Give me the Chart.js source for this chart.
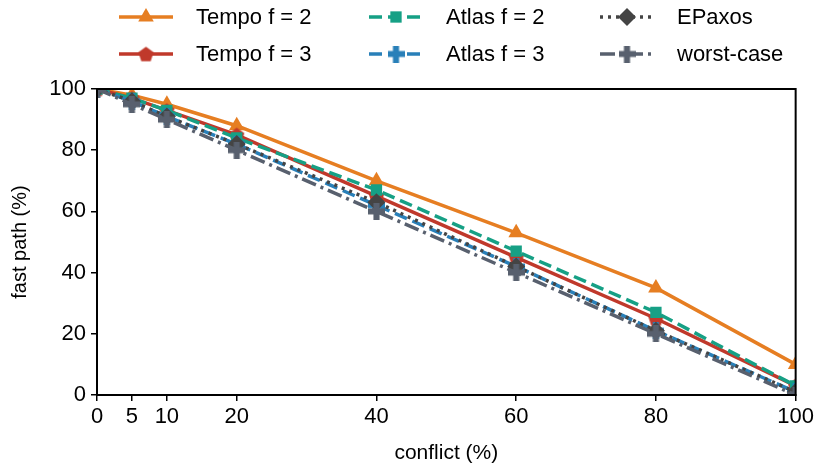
<!DOCTYPE html>
<html>
<head>
<meta charset="utf-8">
<script src="https://cdn.jsdelivr.net/npm/chart.js@4"></script>
<style>
  html, body { margin: 0; padding: 0; background: #fff; }
  #wrap { width: 817px; height: 466px; position: relative; }
</style>
</head>
<body>
<div id="wrap"><canvas id="fastPathChart"></canvas></div>
<script>
// conflict rate (%) on the x axis
const conflict = [0, 5, 10, 20, 40, 60, 80, 100];
const yTicks = [0, 20, 40, 60, 80, 100];

// fast path ratio (%) per protocol
const tempoF2 = [100, 98, 95, 88, 70, 53, 35, 10];
const tempoF3 = [100, 97, 93, 85, 65, 45, 25, 3];
const atlasF2 = [100, 97, 93, 84, 67, 47, 27, 3];
const atlasF3 = [100, 96, 91, 82, 62, 42, 21, 1];
const epaxos = [100, 96, 91, 82, 63, 42, 21, 1];
const worstCase = [100, 95, 90, 80, 60, 40, 20, 0];

const FONT = '"Liberation Sans", Arial, sans-serif';

// small canvases for the marker shapes Chart.js doesn't have
function makeMarker(shape, color, size) {
    const c = document.createElement('canvas');
    c.width = size; c.height = size;
    const g = c.getContext('2d');
    const r = size / 2;
    g.fillStyle = color;
    g.beginPath();
    if (shape === 'pentagon') {
        for (let i = 0; i < 5; i++) {
            const a = -Math.PI / 2 + i * 2 * Math.PI / 5;
            const px = r + Math.cos(a) * (r - 0.5);
            const py = r + 0.8 + Math.sin(a) * (r - 0.5);
            if (i === 0) g.moveTo(px, py); else g.lineTo(px, py);
        }
    } else if (shape === 'plus') {
        const t = size * 0.36;
        g.rect(r - t / 2, 0, t, size);
        g.rect(0, r - t / 2, size, t);
    }
    g.closePath();
    g.fill();
    return c;
}

const seriesDefs = [
    { label: 'Tempo f = 2', data: tempoF2, color: '#e67e22', dash: [], style: 'triangle', radius: 9 },
    { label: 'Tempo f = 3', data: tempoF3, color: '#c0392b', dash: [], style: makeMarker('pentagon', '#c0392b', 17), radius: 8 },
    { label: 'Atlas f = 2', data: atlasF2, color: '#16a085', dash: [13, 6], style: 'rect', radius: 8 },
    { label: 'Atlas f = 3', data: atlasF3, color: '#2980b9', dash: [13, 6], style: makeMarker('plus', '#2980b9', 17), radius: 8 },
    { label: 'EPaxos', data: epaxos, color: '#444444', dash: [3, 5], style: 'rectRot', radius: 9 },
    { label: 'worst-case', data: worstCase, color: '#58606e', dash: [15, 5, 3, 5], style: makeMarker('plus', '#58606e', 17), radius: 8 }
];

const datasets = seriesDefs.map((s, i) => ({
    label: s.label,
    data: s.data.map((v, k) => ({ x: conflict[k], y: v })),
    borderColor: s.color,
    backgroundColor: s.color,
    borderWidth: 3.5,
    borderDash: s.dash,
    pointStyle: s.style,
    pointRadius: s.radius,
    pointBorderWidth: 0,
    pointBackgroundColor: s.color,
    tension: 0,
    clip: 0,
    order: seriesDefs.length - i
}));

// matplotlib-like legend: 3 columns, filled column by column
const legendPlugin = {
    id: 'gridLegend',
    afterDraw(chart) {
        const ctx = chart.ctx;
        const colLine = [119, 369, 600];
        const rowY = [17, 54];
        ctx.save();
        seriesDefs.forEach((s, i) => {
            const col = Math.floor(i / 2), row = i % 2;
            const x0 = colLine[col], x1 = x0 + 54, y = rowY[row];
            ctx.strokeStyle = s.color;
            ctx.lineWidth = 3.5;
            ctx.setLineDash(s.dash);
            ctx.beginPath();
            ctx.moveTo(x0, y);
            ctx.lineTo(x1, y);
            ctx.stroke();
            ctx.setLineDash([]);
            ctx.fillStyle = s.color;
            Chart.helpers.drawPoint(ctx, { pointStyle: s.style, radius: s.radius, borderWidth: 0, rotation: 0 }, (x0 + x1) / 2, y);
            ctx.fillStyle = '#000';
            ctx.font = '22px ' + FONT;
            ctx.textBaseline = 'middle';
            ctx.textAlign = 'left';
            ctx.fillText(s.label, x1 + 23, y + 1);
        });
        ctx.restore();
    }
};

// top and right spines
const framePlugin = {
    id: 'frame',
    afterDraw(chart) {
        const a = chart.chartArea;
        const ctx = chart.ctx;
        ctx.save();
        ctx.strokeStyle = '#000';
        ctx.lineWidth = 2;
        ctx.strokeRect(a.left, a.top, a.right - a.left, a.bottom - a.top);
        ctx.restore();
    }
};

new Chart(document.getElementById('fastPathChart'), {
    type: 'line',
    data: { datasets: datasets },
    options: {
        responsive: true,
        maintainAspectRatio: false,
        animation: false,
        layout: { padding: { top: 89, right: 21, left: 0, bottom: 0 } },
        plugins: {
            legend: { display: false },
            tooltip: { enabled: false }
        },
        scales: {
            x: {
                type: 'linear',
                min: 0,
                max: 100,
                afterBuildTicks: scale => { scale.ticks = conflict.map(v => ({ value: v })); },
                afterFit: scale => { scale.height = 71; },
                ticks: { color: '#000', font: { family: FONT, size: 22 }, padding: 3, maxRotation: 0, autoSkip: false },
                grid: { drawOnChartArea: false, drawTicks: true, tickLength: 6, color: '#000', lineWidth: 1.5 },
                border: { display: true, color: '#000', width: 2 },
                title: { display: true, text: 'conflict (%)', color: '#000', font: { family: FONT, size: 21 }, padding: { top: 2, bottom: 0 } }
            },
            y: {
                min: 0,
                max: 100,
                afterBuildTicks: scale => { scale.ticks = yTicks.map(v => ({ value: v })); },
                afterFit: scale => { scale.width = 97; },
                ticks: { color: '#000', font: { family: FONT, size: 22 }, padding: 5 },
                grid: { drawOnChartArea: false, drawTicks: true, tickLength: 6, color: '#000', lineWidth: 1.5 },
                border: { display: true, color: '#000', width: 2 },
                title: { display: true, text: 'fast path (%)', color: '#000', font: { family: FONT, size: 20 }, padding: { top: 8, bottom: 6 } }
            }
        }
    },
    plugins: [legendPlugin, framePlugin]
});
</script>
</body>
</html>
